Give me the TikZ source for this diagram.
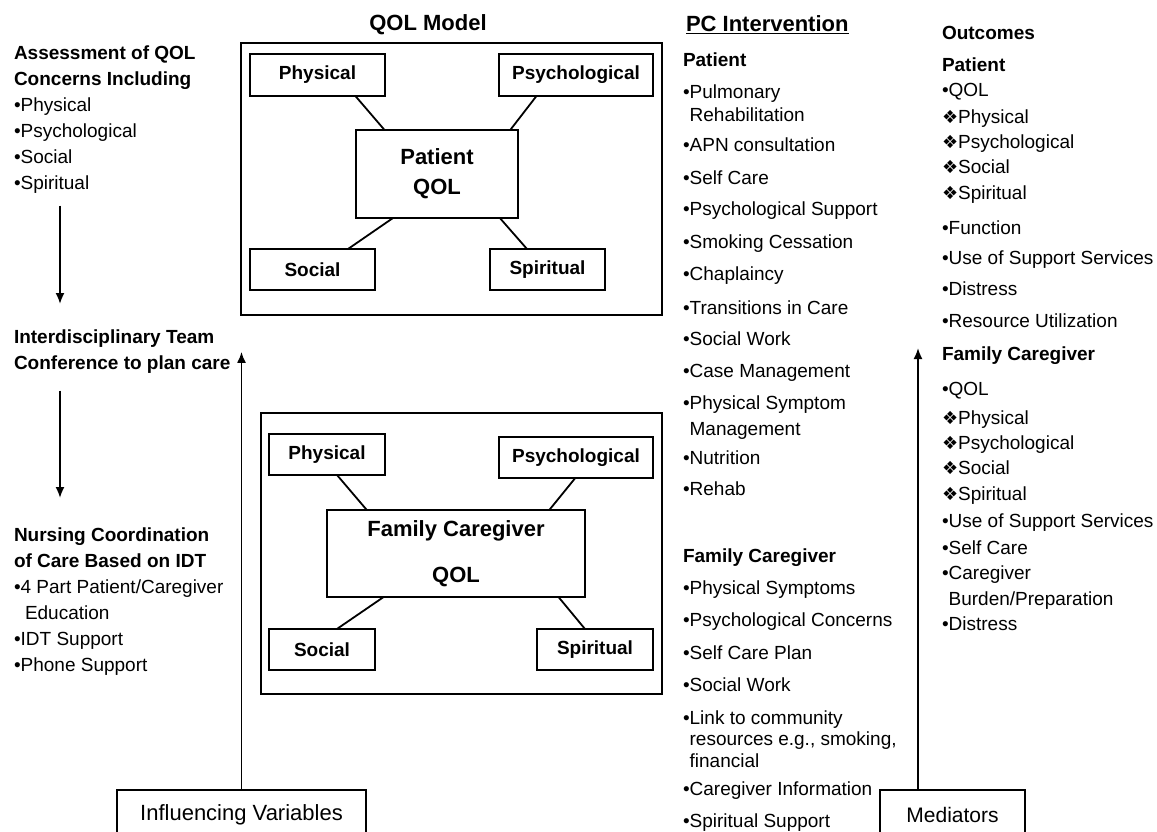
\documentclass[tikz,border=0pt]{standalone}
\usepackage{fontspec}
\setmainfont{Liberation Sans}
\newfontfamily\symfont{DejaVu Sans}
\usetikzlibrary{calc,arrows.meta}
\newcommand{\qdia}{{\symfont\fontsize{18}{18}\selectfont ❖}}

\begin{document}
\begin{tikzpicture}
  [x=1pt,y=-1pt,line width=1.8pt,
   every node/.style={inner sep=0pt,outer sep=0pt},
   qbox/.style={draw,font=\bfseries\fontsize{19}{22}\selectfont},
   core/.style={draw,align=center,font=\bfseries\fontsize{22}{30}\selectfont},
   entry/.style={anchor=west,text height=17pt,text depth=3pt,font=\fontsize{19}{22}\selectfont},
   block/.style={anchor=north west,align=left,font=\fontsize{19}{26}\selectfont},
   title/.style={font=\bfseries\fontsize{22}{26}\selectfont},
   arr/.style={-{Latex[length=11pt,width=9pt]}}]
  \useasboundingbox (0,0) rectangle (1157,832);
  \clip (0,0) rectangle (1157,832);

  % patient QOL model
  \node[title] (model) at (428,25) {QOL Model};
  \node[draw,minimum width=421,minimum height=272] (pframe) at (451.5,179) {};
  \node[qbox,minimum width=135,minimum height=42] (pphy) at (317.5,75) {Physical};
  \node[qbox,minimum width=154,minimum height=42] (ppsy) at (576,75) {Psychological};
  \node[qbox,minimum width=125,minimum height=41] (psoc) at (312.5,269.5) {Social};
  \node[qbox,minimum width=115,minimum height=41] (pspi) at (547.5,269.5) {Spiritual};
  \node[core,minimum width=162,minimum height=88] (pqol) at (437,174) {Patient\\QOL};

  \draw (pphy.-29) -- (pqol.140);
  \draw (ppsy.208) -- (pqol.31);
  \draw (psoc.30) -- (pqol.225);
  \draw (pspi.135) -- (pqol.-35);

  % family caregiver QOL model
  \node[draw,minimum width=401,minimum height=281] (fframe) at (461.5,553.5) {};
  \node[qbox,minimum width=116,minimum height=41] (fphy) at (327,454.5) {Physical};
  \node[qbox,minimum width=154,minimum height=41] (fpsy) at (576,457.5) {Psychological};
  \node[qbox,minimum width=106,minimum height=41] (fsoc) at (322,649.5) {Social};
  \node[qbox,minimum width=116,minimum height=41] (fspi) at (595,649.5) {Spiritual};
  \node[core,font=\bfseries\fontsize{22}{46}\selectfont,minimum width=258,minimum height=87] (fqol) at (456,553.5) {Family Caregiver\\QOL};

  \draw (fphy.-64) -- (fqol.154);
  \draw (fpsy.-92) -- (fqol.25.5);
  \draw (fsoc.54) -- (fqol.211);
  \draw (fspi.116) -- (fqol.-23);

  % left column
  \node[block] (assess) at (14,46) {\textbf{Assessment of QOL}\\\textbf{Concerns Including}\\•Physical\\•Psychological\\•Social\\•Spiritual};
  \node[block] (idt) at (14,330) {\textbf{Interdisciplinary Team}\\\textbf{Conference to plan care}};
  \node[block] (nurse) at (14,528) {\textbf{Nursing Coordination}\\\textbf{of Care Based on IDT}\\•4 Part Patient/Caregiver\\\hspace*{11pt}Education\\•IDT Support\\•Phone Support};

  \draw[arr] ($(assess.south west)+(46,12)$) -- ($(idt.north west)+(46,-26)$);
  \draw[arr] ($(idt.south west)+(46,17)$) -- ($(nurse.north west)+(46,-30)$);

  \node[draw,minimum width=249,minimum height=50,font=\fontsize{22}{26}\selectfont] (infl) at (241.5,815) {Influencing Variables};
  \draw[arr] (infl) -- (infl |- idt.east);

  % PC intervention
  \node[title,anchor=west] (pc) at (686,25) {\underline{PC Intervention}};
  \foreach \y/\t [count=\i] in {60/{\bfseries Patient}, 92/•Pulmonary,
    115/{\phantom{•}Rehabilitation}, 145/•APN consultation, 177/•Self Care,
    208/•Psychological Support, 241/•Smoking Cessation, 273/•Chaplaincy,
    307/•Transitions in Care, 338/•Social Work, 370/•Case Management,
    402/•Physical Symptom, 428/{\phantom{•}Management}, 457/•Nutrition,
    488/•Rehab, 555/{\bfseries Family Caregiver}, 587/•Physical Symptoms,
    619/•Psychological Concerns, 652/•Self Care Plan, 684/•Social Work,
    717/•Link to community, 738/{\phantom{•}resources e.g., smoking,},
    760/{\phantom{•}financial}, 788/•Caregiver Information, 820/•Spiritual Support}
    \node[entry] (pc\i) at (683,\y) {\t};

  % outcomes
  \foreach \y/\t [count=\i] in {33/{\bfseries Outcomes}, 65/{\bfseries Patient},
    90/•QOL, 117/{\qdia Physical}, 142/{\qdia Psychological}, 167/{\qdia Social},
    192/{\qdia Spiritual}, 227/•Function, 257/•Use of Support Services,
    288/•Distress, 320/•Resource Utilization, 353/{\bfseries Family Caregiver},
    388/•QOL, 417/{\qdia Physical}, 442/{\qdia Psychological}, 467/{\qdia Social},
    493/{\qdia Spiritual}, 520/•Use of Support Services, 547/•Self Care,
    572/•Caregiver, 598/{\phantom{•}Burden/Preparation}, 623/•Distress}
    \node[entry] (oc\i) at (942,\y) {\t};

  \node[draw,minimum width=145,minimum height=50,font=\fontsize{21}{26}\selectfont] (medi) at (952.5,815) {Mediators};
  \coordinate (mtop) at (918,348);
  \draw[arr] (medi.north -| mtop) -- (mtop);
\end{tikzpicture}
\end{document}
